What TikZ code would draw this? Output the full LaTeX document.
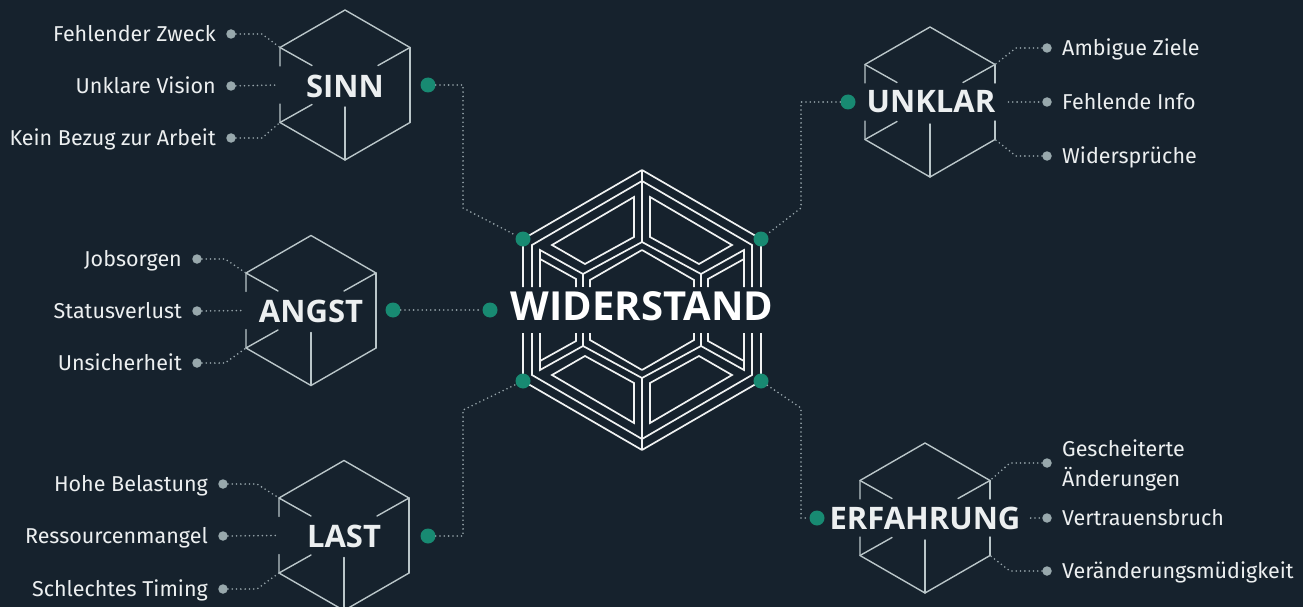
\documentclass[tikz,border=0pt]{standalone}
\usepackage{fontspec}
\setmainfont{Fira Sans}
\newfontfamily\titlefont{Open Sans}

\definecolor{bgnavy}{RGB}{22,34,45}
\definecolor{cubegray}{RGB}{186,198,201}
\definecolor{framewhite}{RGB}{240,242,242}
\definecolor{hubteal}{RGB}{24,138,114}
\definecolor{dotgray}{RGB}{152,168,172}
\definecolor{conngray}{RGB}{150,164,170}
\definecolor{textwhite}{RGB}{236,239,240}

% outline of one small cube, centred on the pic origin
\newcommand\cubeshape{%
  \draw[cubeline] (-65,-19) -- (-65,-37.5) -- (0,-75) -- (65,-37.5);
  \draw[cubeline] (-65,19) -- (-65,37.5) -- (0,75) -- (65,37.5);
  \draw[cubeline] (-65,-37.5) -- (-33,-19.5);
  \draw[cubeline] (65,-37.5) -- (33,-19.5);
  \draw[cubeline] (-65,37.5) -- (-33,19.5);
  \draw[cubeline] (0,75) -- (0,22);
  \coordinate (-ul) at (-65,-37.5);
  \coordinate (-ur) at (65,-37.5);
  \coordinate (-ll) at (-65,37.5);
  \coordinate (-lr) at (65,37.5);
  \coordinate (-w) at (-68,0);
}

% one quarter (upper left) of the central frame cube
\newcommand\framequarter{%
  \draw[frameline] (0,-140) -- (-119,-71) -- (-119,-23);
  \draw[frameline] (0,-129) -- (-110,-65) -- (-110,-23);
  \draw[frameline] (-90,-65) -- (-8,-113) -- (-8,-73) -- (-57,-46) -- cycle;
  \draw[frameline] (0,-140) -- (0,-68);
  \draw[frameline] (0,-68) -- (-59,-36) -- (-102,-60) -- (-102,-23);
  \draw[frameline] (-102,-51) -- (-66,-31) -- (-66,-23);
  \draw[frameline] (0,-60) -- (-52,-30) -- (-52,-23);
  \draw[frameline] (-59,-36) -- (-59,-23);
}

\tikzset{
  cubeline/.style={draw=cubegray, line width=1.4pt, line cap=round, line join=round},
  frameline/.style={draw=framewhite, line width=1.7pt, line join=miter},
  conn/.style={draw=conngray, line width=1.8pt, line cap=round, dash pattern=on 0pt off 4.3pt},
  hub/.style={circle, fill=hubteal, draw=none, inner sep=0pt, minimum size=15pt},
  leafdot/.style={circle, fill=dotgray, draw=none, inner sep=0pt, minimum size=9.5pt},
  leaftext/.style={text=textwhite, inner sep=0pt, font=\fontsize{21.5}{30}\selectfont},
  lefttext/.style={leaftext, anchor=base east},
  righttext/.style={leaftext, anchor=base west},
  cubetitle/.style={text=textwhite, inner sep=0pt, font=\titlefont\bfseries\fontsize{31}{34}\selectfont},
  maintitle/.style={text=white, inner sep=0pt, font=\titlefont\bfseries\fontsize{40}{44}\selectfont},
  cube/.pic={\cubeshape \draw[cubeline] (65,-37.5) -- (65,37.5);},
  opencube/.pic={\cubeshape \draw[cubeline] (65,-37.5) -- (65,-19) (65,19) -- (65,37.5);},
}

\begin{document}
\begin{tikzpicture}[x=1pt,y=-1pt]
\fill[bgnavy] (0,0) rectangle (1303,607);
\useasboundingbox (0,0) rectangle (1303,607);

% central frame cube
\begin{scope}[shift={(642,310)}]
  \framequarter
  \begin{scope}[xscale=-1]\framequarter\end{scope}
  \begin{scope}[yscale=-1]\framequarter\end{scope}
  \begin{scope}[xscale=-1,yscale=-1]\framequarter\end{scope}
\end{scope}
\node[maintitle] (core) at (642,306.5) {WIDERSTAND};
\node[hub] (cul) at (523,239) {};
\node[hub] (cur) at (761,239) {};
\node[hub] (cll) at (523,381) {};
\node[hub] (clr) at (761,381) {};
\node[hub] (cw) at (490,310) {};

% small cubes
\pic (sinn) at (345,85) {cube};
\pic (angst) at (311,310.5) {cube};
\pic (last) at (344,535.5) {cube};
\pic (unk) at (930,102) {opencube};
\pic (erf) at (925,518) {opencube};

\node[cubetitle] (sinnt) at (345,86) {SINN};
\node[cubetitle] (angstt) at (311,311) {ANGST};
\node[cubetitle] (lastt) at (344,536) {LAST};
\node[cubetitle] (unkt) at (931,102) {UNKLAR};
\node[cubetitle] (erft) at (925,518) {ERFAHRUNG};

% hubs of the small cubes
\node[hub] (sinnhub) at (428,85) {};
\node[hub] (angsthub) at (393,310) {};
\node[hub] (lasthub) at (428,536) {};
\node[hub] (unkhub) at (848,102) {};
\node[hub] (erfhub) at (817,518) {};

% links to the central cube
\coordinate (sbend) at (463,208);
\coordinate (ubend) at (801,208);
\coordinate (lbend) at (463,410);
\coordinate (ebend) at (801,408);
\draw[conn] (sinnhub) -| (sbend) -- (cul);
\draw[conn] (unkhub) -| (ubend) -- (cur);
\draw[conn] (lasthub) -| (lbend) -- (cll);
\draw[conn] (clr) -- (ebend) |- (erfhub);
\draw[conn] (angsthub) -- (cw);

% SINN leaves
\node[leafdot] (s1) at (231,34) {};
\node[leafdot] (s2) at (231,86) {};
\node[leafdot] (s3) at (231,138) {};
\node[lefttext] (s1t) at (216,41.5) {Fehlender Zweck};
\node[lefttext] (s2t) at (216,93.5) {Unklare Vision};
\node[lefttext] (s3t) at (216,145.5) {Kein Bezug zur Arbeit};
\draw[conn] (s1) -- ++(31,0) -- (sinn-ul);
\draw[conn] (s2) -- (sinn-w);
\draw[conn] (s3) -- ++(31,0) -- (sinn-ll);

% ANGST leaves
\node[leafdot] (a1) at (197,259) {};
\node[leafdot] (a2) at (197,311) {};
\node[leafdot] (a3) at (197,363) {};
\node[lefttext] (a1t) at (182,266.5) {Jobsorgen};
\node[lefttext] (a2t) at (182,318.5) {Statusverlust};
\node[lefttext] (a3t) at (182,370.5) {Unsicherheit};
\draw[conn] (a1) -- ++(28,0) -- (angst-ul);
\draw[conn] (a2) -- (angst-w);
\draw[conn] (a3) -- ++(28,0) -- (angst-ll);

% LAST leaves
\node[leafdot] (l1) at (223,484) {};
\node[leafdot] (l2) at (223,536) {};
\node[leafdot] (l3) at (223,589) {};
\node[lefttext] (l1t) at (208,491.5) {Hohe Belastung};
\node[lefttext] (l2t) at (208,543.5) {Ressourcenmangel};
\node[lefttext] (l3t) at (208,596.5) {Schlechtes Timing};
\draw[conn] (l1) -- ++(34,0) -- (last-ul);
\draw[conn] (l2) -- (last-w);
\draw[conn] (l3) -- ++(34,0) -- (last-ll);

% UNKLAR leaves
\node[leafdot] (u1) at (1047,48) {};
\node[leafdot] (u2) at (1047,102) {};
\node[leafdot] (u3) at (1047,156) {};
\node[righttext] (u1t) at (1062,55.5) {Ambigue Ziele};
\node[righttext] (u2t) at (1062,109.5) {Fehlende Info};
\node[righttext] (u3t) at (1062,163.5) {Widersprüche};
\draw[conn] (u1) -- ++(-31,0) -- (unk-ur);
\draw[conn] ([xshift=13pt]unkt.east) -- (u2);
\draw[conn] (u3) -- ++(-31,0) -- (unk-lr);

% ERFAHRUNG leaves (the two-line label is placed by its last baseline)
\node[leaftext, anchor=base west, align=left] (e1t) at (1062,486) {Gescheiterte\\Änderungen};
\node[leafdot] (e1) at (1047,463) {};
\node[leafdot] (e2) at (1047,518) {};
\node[leafdot] (e3) at (1047,571) {};
\node[righttext] (e2t) at (1062,525.5) {Vertrauensbruch};
\node[righttext] (e3t) at (1062,578.5) {Veränderungsmüdigkeit};
\draw[conn] (e1) -- ++(-37,0) -- (erf-ur);
\draw[conn] ([xshift=10pt]erft.east) -- (e2);
\draw[conn] (e3) -- ++(-37,0) -- (erf-lr);
\end{tikzpicture}
\end{document}
